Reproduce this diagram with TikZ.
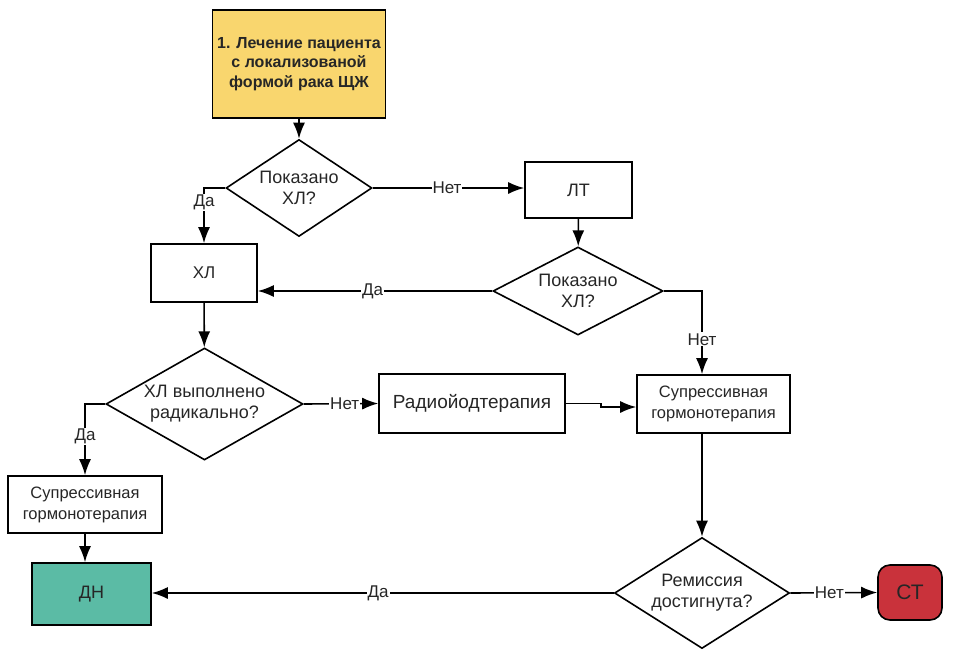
\documentclass[tikz,border=0pt]{standalone}
\usepackage{fontspec}
\setmainfont{Liberation Sans}
\usetikzlibrary{shapes.geometric,arrows.meta}

\definecolor{chartyellow}{rgb}{0.976, 0.839, 0.431}
\definecolor{chartteal}{rgb}{0.357, 0.733, 0.647}
\definecolor{chartred}{rgb}{0.788, 0.196, 0.231}
\definecolor{charttext}{rgb}{0.15, 0.15, 0.15}
\tikzset{box/.style={draw, line width=1.6pt, inner sep=0pt, align=center, text=charttext}}
\tikzset{question/.style={draw, diamond, line width=1.6pt, inner sep=0pt, align=center, text=charttext, font=\fontsize{18}{21}\selectfont}}
\tikzset{edge/.style={line width=1.6pt, -{Latex[length=16pt, width=12pt]}}}
\tikzset{answer/.style={fill=white, inner sep=1pt, text=charttext, font=\fontsize{17}{20}\selectfont}}

\begin{document}
\begin{tikzpicture}[x=1pt, y=-1pt]
        \useasboundingbox (0, 0) rectangle (955, 653);

        \node[box, fill=chartyellow, minimum width=173pt, minimum height=108pt, font=\fontsize{16}{19.5}\selectfont\bfseries] (Nstart) at (299, 64) {1. Лечение пациента\\с локализованой\\формой рака ЩЖ};
        \node[question, aspect=1.5, minimum width=146pt, minimum height=97pt] (Nq1) at (299, 188) {Показано\\ХЛ?};
        \node[box, minimum width=107pt, minimum height=56pt, font=\fontsize{18}{21}\selectfont] (Nlt) at (578.5, 190) {ЛТ};
        \node[question, aspect=2, minimum width=170pt, minimum height=88pt] (Nq2) at (578, 291) {Показано\\ХЛ?};
        \node[box, minimum width=106pt, minimum height=58pt, font=\fontsize{17}{20}\selectfont] (Nxl) at (204, 273) {ХЛ};
        \node[question, aspect=1.7, minimum width=197pt, minimum height=112pt] (Nq3) at (204.5, 404) {ХЛ выполнено\\радикально?};
        \node[box, minimum width=186pt, minimum height=59pt, font=\fontsize{19}{22}\selectfont] (Nradio) at (472, 403.5) {Радиойодтерапия};
        \node[box, minimum width=153pt, minimum height=58pt, font=\fontsize{16.5}{21}\selectfont] (NsupR) at (713.5, 404) {Супрессивная\\гормонотерапия};
        \node[box, minimum width=154pt, minimum height=57pt, font=\fontsize{16.5}{21}\selectfont] (NsupL) at (85, 504.5) {Супрессивная\\гормонотерапия};
        \node[box, fill=chartteal, minimum width=119pt, minimum height=62pt, font=\fontsize{18}{21}\selectfont] (Ndn) at (91.5, 594) {ДН};
        \node[question, aspect=1.6, minimum width=175pt, minimum height=111pt] (Nq4) at (702, 593) {Ремиссия\\достигнута?};
        \node[box, fill=chartred, rounded corners=12pt, minimum width=64pt, minimum height=55pt, font=\fontsize{21}{24}\selectfont] (Nct) at (910, 592.5) {СТ};

        \draw [edge] (Nstart) -- (Nq1);
        \draw [edge] (Nq1.west) -| node[answer, pos=0.63] {Да} (Nxl.north);
        \draw [edge] (Nq1.east) -- node[answer, pos=0.49] {Нет} (Nq1.east -| Nlt.west);
        \draw [edge] (Nlt) -- (Nq2);
        \draw [edge] (Nq2.west) -- node[answer, pos=0.51] {Да} (Nq2.west -| Nxl.east);
        \draw [edge] (Nq2.east) -| node[answer, pos=0.79] {Нет} (Nq4.north |- NsupR.north);
        \draw [edge] (Nxl) -- (Nq3);
        \draw [edge] (Nq3.west) -| node[answer, pos=0.73] {Да} (NsupL.north);
        \draw [edge] (Nq3.east) -- node[answer, pos=0.55] {Нет} (Nradio.west);
        \draw [edge] (Nradio.east) -- ++(35, 0) |- ([yshift=-3pt]NsupR.west);
        \draw [edge] (Nq4.north |- NsupR.south) -- (Nq4.north);
        \draw [edge] (NsupL.south) -- (NsupL.south |- Ndn.north);
        \draw [edge] (Nq4.west) -- node[answer, pos=0.51] {Да} (Nq4.west -| Ndn.east);
        \draw [edge] (Nq4.east) -- node[answer, pos=0.45] {Нет} (Nct.west);

    \end{tikzpicture}
\end{document}
